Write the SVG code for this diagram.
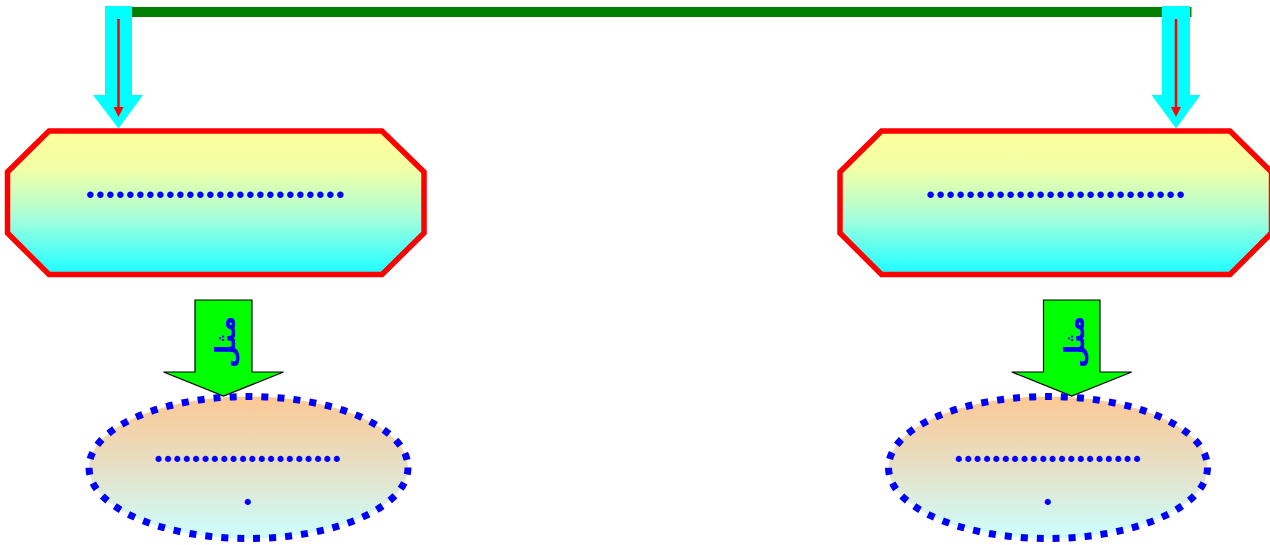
<svg xmlns="http://www.w3.org/2000/svg" width="1270" height="545" viewBox="0 0 1270 545">
  <defs>
    <linearGradient id="gOct" x1="0" y1="0" x2="0" y2="1">
      <stop offset="0" stop-color="#FFFF99"/>
      <stop offset="0.27" stop-color="#F0FFA8"/>
      <stop offset="0.5" stop-color="#C0FFC8"/>
      <stop offset="0.62" stop-color="#A0FFDC"/>
      <stop offset="0.85" stop-color="#50FFF5"/>
      <stop offset="1" stop-color="#1AFFFF"/>
    </linearGradient>
    <linearGradient id="gEll" x1="0" y1="0" x2="0" y2="1">
      <stop offset="0" stop-color="#FCC894"/>
      <stop offset="0.5" stop-color="#E6E0C6"/>
      <stop offset="1" stop-color="#CCFFFF"/>
    </linearGradient>
  </defs>
  <style>
    .oct { fill: url(#gOct); stroke: #FF0000; stroke-width: 5.5; stroke-linejoin: miter; }
    .ell { fill: url(#gEll); stroke: #0000FF; stroke-width: 7; stroke-dasharray: 7 9; }
    .dots1 { font-family: "Liberation Serif", serif; font-weight: bold; font-size: 40px; fill: #0000FF; text-anchor: middle; }
    .dots2 { font-family: "Liberation Serif", serif; font-weight: bold; font-size: 37.5px; fill: #0000FF; text-anchor: middle; }
    .cyan { fill: #00FFFF; }
    .red { stroke: #FF0000; stroke-width: 2.5; fill: none; }
    .redhead { fill: #FF0000; }
    .garrow { fill: #00FF00; stroke: #000000; stroke-width: 1.2; stroke-linejoin: miter; }
    .ar { font-family: "DejaVu Sans", "Noto Sans", sans-serif; font-weight: bold; font-size: 27px; fill: #0000FF; text-anchor: middle; dominant-baseline: central; }
  </style>

  <g id="connectors">
    <line x1="118" y1="12" x2="1191.5" y2="12" stroke="#008000" stroke-width="10"/>
    <g id="arrow-left-top">
      <polygon class="cyan" points="105,6 132,6 132,95 143,95 118.5,128.5 93,95 105,95"/>
      <line class="red" x1="118.5" y1="19" x2="118.5" y2="108"/>
      <polygon class="redhead" points="113.5,107 123.5,107 118.5,117"/>
    </g>
    <g id="arrow-right-top">
      <polygon class="cyan" points="1162,6 1190,6 1190,95 1200.5,95 1176,128.5 1151.5,95 1162,95"/>
      <line class="red" x1="1176" y1="19" x2="1176" y2="108"/>
      <polygon class="redhead" points="1171,107 1181,107 1176,117"/>
    </g>
    <g id="arrow-left-down">
      <polygon class="garrow" points="195,300 252,300 252,372 283.5,372 223.5,396 163.5,372 195,372"/>
      <text class="ar" transform="translate(225,342) rotate(-90)" x="0" y="0">مثل</text>
    </g>
    <g id="arrow-right-down">
      <polygon class="garrow" points="1043.5,300 1100,300 1100,372 1131.7,372 1071.7,396 1011.7,372 1043.5,372"/>
      <text class="ar" transform="translate(1074,342) rotate(-90)" x="0" y="0">مثل</text>
    </g>
  </g>

  <g id="node-oct-left">
    <polygon class="oct" points="49,131 382,131 424,172 424,233 382,274.5 49,274.5 7.5,233 7.5,172"/>
    <text class="dots1" x="215.2" y="198.3">..........................</text>
  </g>
  <g id="node-oct-right">
    <polygon class="oct" points="881.5,131 1230,131 1271.5,172 1271.5,233 1230,274.5 881.5,274.5 840,233 840,172"/>
    <text class="dots1" x="1055.5" y="198.3">..........................</text>
  </g>
  <g id="node-ell-left">
    <ellipse class="ell" cx="248.5" cy="467.5" rx="159.5" ry="71"/>
    <text class="dots2" x="247.5" y="462.1">....................</text>
    <text class="dots2" x="247.7" y="505.3">.</text>
  </g>
  <g id="node-ell-right">
    <ellipse class="ell" cx="1048" cy="467.5" rx="159.5" ry="71"/>
    <text class="dots2" x="1047.8" y="462.1">....................</text>
    <text class="dots2" x="1047.7" y="505.3">.</text>
  </g>
</svg>
